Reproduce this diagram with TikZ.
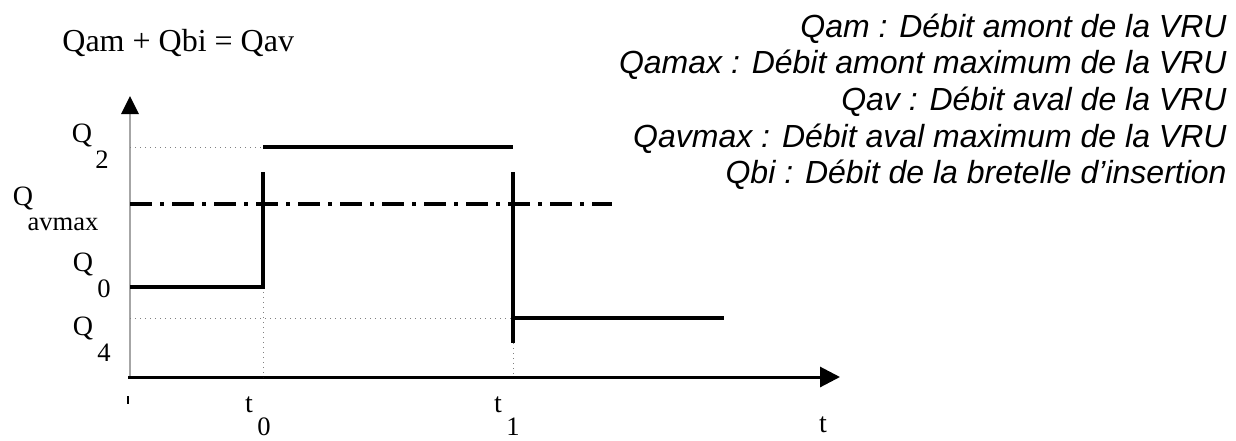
\documentclass[tikz,border=0pt]{standalone}
\usepackage{fontspec}
\setmainfont{Liberation Serif}
\newfontfamily\legendfont{Liberation Sans}
\usetikzlibrary{arrows.meta}
\begin{document}
\begin{tikzpicture}[x=0.5pt,y=-0.5pt,
  thickline/.style={line width=1.9pt, black},
  guide/.style={line width=0.5pt, gray, dotted},
  axisline/.style={line width=1.5pt, black},
  dashdotline/.style={line width=1.9pt, dash pattern=on 11pt off 4pt on 2pt off 4pt},
  lab/.style={font=\fontsize{14}{16}\selectfont, inner sep=0pt},
  sublab/.style={font=\fontsize{13.3}{15}\selectfont, inner sep=0pt},
  eqlab/.style={font=\fontsize{16}{18}\selectfont, inner sep=0pt},
  leg/.style={font=\legendfont\itshape\fontsize{16}{18}\selectfont, inner sep=0pt, anchor=east}]
\useasboundingbox (0,0) rectangle (1236,440);
% coordinates
\coordinate (O) at (130,377);
\coordinate (ytop) at (130,96);
\coordinate (xstart) at (128,377);
\coordinate (xend) at (840,377);
\coordinate (q2l) at (130,147);
\coordinate (q2a) at (263,147);
\coordinate (q2b) at (513,147);
\coordinate (t0top) at (263,172);
\coordinate (t0mid) at (263,287);
\coordinate (t0bot) at (263,377);
\coordinate (q0l) at (130,287);
\coordinate (dml) at (130,204);
\coordinate (dmr) at (612,204);
\coordinate (q4l) at (130,318);
\coordinate (t1top) at (513,172);
\coordinate (t1mid) at (513,318);
\coordinate (t1low) at (513,343);
\coordinate (t1bot) at (513,377);
\coordinate (q4r) at (724,318);
\coordinate (tk1) at (128,396);
\coordinate (tk2) at (128,404);
% axes
\draw[line width=0.6pt, gray!70] (O) -- (130,112);
\fill (ytop) -- (139,114) -- (121,114) -- cycle;
\draw[axisline, -{Triangle[length=10pt,width=10pt]}] (xstart) -- (xend);
\draw[line width=1pt] (tk1) -- (tk2);
% guides
\draw[guide] (q2l) -- (q2a);
\draw[guide] (q4l) -- (t1mid);
\draw[guide] (t0mid) -- (t0bot);
\draw[guide] (t1low) -- (t1bot);
% signals
\draw[dashdotline] (dml) -- (dmr);
\draw[thickline] (q0l) -- (t0mid) -- (t0top);
\draw[thickline] (q2a) -- (q2b);
\draw[thickline] (t1top) -- (t1low);
\draw[thickline] (t1mid) -- (q4r);
% labels
\node[eqlab, anchor=west] (eq) at (62,43) {Qam + Qbi = Qav};
\node[lab] (lq2) at (82,135) {Q};
\node[sublab] (lq2s) at (102,160) {2};
\node[lab] (lqm) at (23,198) {Q};
\node[sublab] (lqms) at (63,224) {avmax};
\node[lab] (lq0) at (83,264) {Q};
\node[sublab] (lq0s) at (104,289) {0};
\node[lab] (lq4) at (83,328) {Q};
\node[sublab] (lq4s) at (104,353) {4};
\node[lab] (lt0) at (249,405) {t};
\node[sublab] (lt0s) at (264,427) {0};
\node[lab] (lt1) at (498,405) {t};
\node[sublab] (lt1s) at (513,427) {1};
\node[lab] (lt) at (823,425) {t};
% legend
\node[leg] (g1) at (1227,29) {Qam : Débit amont de la VRU};
\node[leg] (g2) at (1227,65) {Qamax : Débit amont maximum de la VRU};
\node[leg] (g3) at (1227,102) {Qav : Débit aval de la VRU};
\node[leg] (g4) at (1227,139) {Qavmax : Débit aval maximum de la VRU};
\node[leg] (g5) at (1227,175) {Qbi : Débit de la bretelle d’insertion};
\end{tikzpicture}
\end{document}
